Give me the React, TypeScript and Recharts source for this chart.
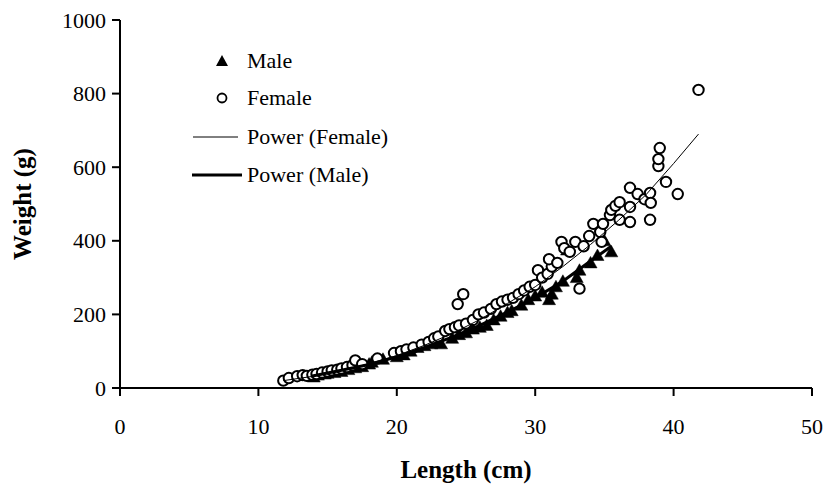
import React from 'react';
import { ScatterChart, Scatter, XAxis, YAxis, Legend, Label } from 'recharts';

const xTicks = [0, 10, 20, 30, 40, 50];
const yTicks = [0, 200, 400, 600, 800, 1000];

const maleLength = [14, 14.3, 14.8, 15, 15.5, 16, 16.5, 17, 17.5, 18, 18.2, 19, 20, 20.5, 21, 21.5, 22, 22.5, 23, 23.2, 24, 24.5, 25, 25.5, 26, 26.5, 27, 27.5, 28, 28.3, 29, 29.5, 30, 30.5, 31, 31.2, 31.5, 32, 32.3, 33, 33.2, 34, 34.5, 35, 35.5];
const maleWeight = [30, 35, 38, 40, 42, 45, 50, 55, 58, 65, 70, 78, 85, 90, 100, 110, 115, 120, 125, 120, 135, 145, 150, 160, 165, 170, 185, 195, 205, 210, 225, 240, 250, 260, 240, 255, 275, 290, 375, 300, 320, 340, 360, 400, 370];

const femaleLength = [11.8, 12.2, 12.8, 13.2, 13.5, 13.9, 14.2, 14.6, 15.0, 15.3, 15.7, 16.0, 16.4, 16.8, 17.0, 17.5, 18.6, 19.8, 20.3, 20.7, 21.2, 21.8, 22.3, 22.7, 23.0, 23.5, 23.8, 24.2, 24.5, 24.4, 24.8, 25.0, 25.5, 25.9, 26.3, 26.8, 27.2, 27.6, 28.0, 28.4, 28.8, 29.2, 29.6, 30.0, 30.2, 30.5, 30.9, 31.2, 31.0, 31.6, 31.9, 32.1, 32.5, 32.9, 33.2, 33.5, 33.9, 34.2, 34.7, 34.8, 34.9, 35.4, 35.5, 35.8, 36.1, 36.1, 36.85, 36.85, 36.85, 37.4, 37.9, 38.3, 38.35, 38.3, 38.9, 38.9, 39.0, 39.45, 40.3, 41.8];
const femaleWeight = [20, 27, 32, 35, 33, 36, 38, 42, 45, 48, 50, 53, 57, 62, 75, 65, 80, 95, 100, 105, 110, 118, 125, 135, 140, 155, 160, 165, 170, 228, 255, 175, 185, 200, 205, 215, 228, 235, 240, 245, 255, 265, 275, 280, 320, 300, 310, 330, 350, 340, 397, 380, 370, 397, 270, 385, 413, 446, 424, 397, 446, 470, 484, 495, 505, 457, 544, 492, 451, 527, 513, 530, 503, 457, 603, 622, 652, 560, 527, 810];

const fitFemaleLength = [11.8, 14, 16, 18, 20, 22, 24, 26, 28, 30, 32, 34, 36, 38, 40, 41.8];
const fitFemaleWeight = [20, 32, 47, 66, 88, 116, 148, 186, 230, 275, 330, 390, 455, 525, 610, 690];

const fitMaleLength = [13.8, 16, 18, 20, 22, 24, 26, 28, 30, 32, 34, 35.5];
const fitMaleWeight = [32, 48, 64, 85, 110, 138, 170, 206, 245, 290, 345, 385];

const legendLabels = ['Male', 'Female', 'Power (Female)', 'Power (Male)'];

const zip = (xs: number[], ys: number[]) => xs.map((x, i) => ({ x, y: ys[i] }));

const maleData = zip(maleLength, maleWeight);
const femaleData = zip(femaleLength, femaleWeight);
const fitFemale = zip(fitFemaleLength, fitFemaleWeight);
const fitMale = zip(fitMaleLength, fitMaleWeight);

const FONT = "'Liberation Serif', 'Times New Roman', serif";
const textStyle = { fontFamily: FONT, fontSize: 22, fill: '#000' };
const titleStyle = { fontWeight: 'bold' as const, fontSize: 25, fill: '#000', fontFamily: FONT };

const Triangle = (props: any) => {
  const { cx, cy } = props;
  if (cx == null || cy == null) return <g />;
  return (
    <polygon
      points={`${cx},${cy - 6.5} ${cx - 6.5},${cy + 5} ${cx + 6.5},${cy + 5}`}
      fill="#000"
      stroke="#000"
      strokeWidth={0.5}
    />
  );
};

const Circle = (props: any) => {
  const { cx, cy } = props;
  if (cx == null || cy == null) return <g />;
  return <circle cx={cx} cy={cy} r={5.2} fill="#fff" stroke="#000" strokeWidth={2} />;
};

const NoShape = () => <g />;

const XTick = (props: any) => {
  const { x, y, payload } = props;
  return (
    <text x={x} y={y} dy={15.6} textAnchor="middle" style={textStyle}>
      {payload.value}
    </text>
  );
};

const YTick = (props: any) => {
  const { x, y, payload } = props;
  return (
    <text x={x} y={y} dy={7.5} textAnchor="end" style={textStyle}>
      {payload.value}
    </text>
  );
};

const LegendContent = () => (
  <svg width={240} height={150} style={{ overflow: 'visible' }}>
    <polygon points="37,7 31,18 43,18" fill="#000" />
    <text x={62} y={20} style={textStyle}>{legendLabels[0]}</text>
    <circle cx={37} cy={50} r={4.5} fill="#fff" stroke="#000" strokeWidth={1.8} />
    <text x={62} y={57} style={textStyle}>{legendLabels[1]}</text>
    <line x1={8} x2={53} y1={89} y2={89} stroke="#000" strokeWidth={1} />
    <text x={62} y={96} style={textStyle}>{legendLabels[2]}</text>
    <line x1={7} x2={57} y1={127} y2={127} stroke="#000" strokeWidth={3} />
    <text x={62} y={134} style={textStyle}>{legendLabels[3]}</text>
  </svg>
);

export default function App() {
  return (
    <div
      style={{
        width: 823,
        height: 486,
        paddingLeft: 8,
        paddingTop: 8,
        boxSizing: 'border-box',
        overflow: 'hidden',
        background: '#fff',
        fontFamily: FONT,
      }}
    >
      <style>{'body{margin:0;}'}</style>
      <ScatterChart
        width={815}
        height={478}
        margin={{ top: 12, right: 11, left: 0, bottom: 0 }}
        style={{ fontFamily: FONT, overflow: 'visible' }}
      >
        <XAxis
          type="number"
          dataKey="x"
          domain={[0, 50]}
          ticks={xTicks}
          height={98}
          axisLine={{ stroke: '#000', strokeWidth: 2 }}
          tickLine={{ stroke: '#000', strokeWidth: 2 }}
          tickSize={8}
          tickMargin={22}
          tick={XTick}
          allowDataOverflow
        >
          <Label value="Length (cm)" position="insideBottom" offset={8} style={titleStyle} />
        </XAxis>
        <YAxis
          type="number"
          dataKey="y"
          domain={[0, 1000]}
          ticks={yTicks}
          width={112}
          axisLine={{ stroke: '#000', strokeWidth: 2 }}
          tickLine={{ stroke: '#000', strokeWidth: 2 }}
          tickSize={8}
          tickMargin={6}
          tick={YTick}
          allowDataOverflow
        >
          <Label
            content={(p: any) => {
              const vb = p.viewBox || {};
              const x = (vb.x ?? 0) + 14;
              const y = (vb.y ?? 0) + (vb.height ?? 0) / 2;
              return (
                <text
                  x={x}
                  y={y}
                  transform={`rotate(-90, ${x}, ${y})`}
                  textAnchor="middle"
                  dominantBaseline="central"
                  style={titleStyle}
                >
                  Weight (g)
                </text>
              );
            }}
          />
        </YAxis>
        <Legend
          layout="horizontal"
          verticalAlign="middle"
          align="center"
          content={LegendContent}
          wrapperStyle={{ left: 177, top: 40, width: 240, height: 150 }}
        />
        <Scatter name="Male" data={maleData} shape={Triangle} isAnimationActive={false} />
        <Scatter name="Female" data={femaleData} shape={Circle} isAnimationActive={false} />
        <Scatter
          name="Power (Female)"
          data={fitFemale}
          shape={NoShape}
          line={{ stroke: '#000', strokeWidth: 1 }}
          lineType="joint"
          isAnimationActive={false}
        />
        <Scatter
          name="Power (Male)"
          data={fitMale}
          shape={NoShape}
          line={{ stroke: '#000', strokeWidth: 3 }}
          lineType="joint"
          isAnimationActive={false}
        />
      </ScatterChart>
    </div>
  );
}
